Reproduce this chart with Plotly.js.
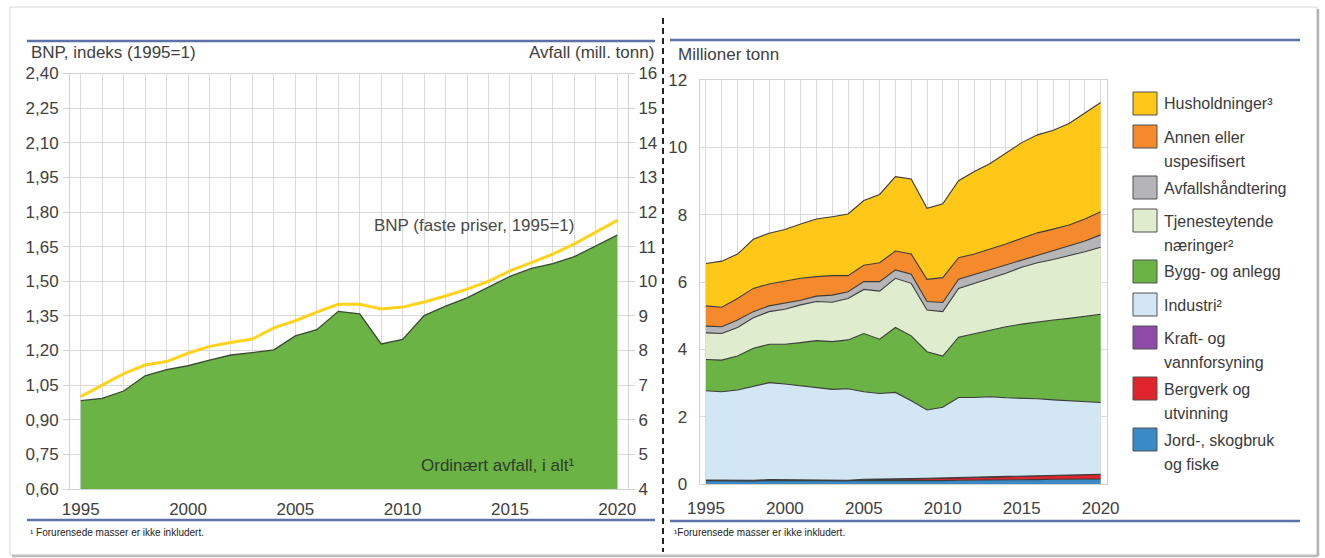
<!DOCTYPE html>
<html>
<head>
<meta charset="utf-8">
<script src="https://cdn.plot.ly/plotly-3.0.1.min.js"></script>
<style>
  html, body { margin: 0; padding: 0; background: #ffffff; }
  #chart { width: 1325px; height: 558px; }
</style>
</head>
<body>
<div id="chart"></div>
<script>
// ---- Data ----
const years = [1995, 1996, 1997, 1998, 1999, 2000, 2001, 2002, 2003, 2004, 2005, 2006, 2007,
               2008, 2009, 2010, 2011, 2012, 2013, 2014, 2015, 2016, 2017, 2018, 2019, 2020];
const xTickYears = [1995, 2000, 2005, 2010, 2015, 2020];

// GDP index, constant prices (1995 = 1)
const gdpIndex = [1.00, 1.05, 1.10, 1.137, 1.152, 1.188, 1.218, 1.235, 1.25, 1.298, 1.329, 1.366, 1.40,
                  1.40, 1.38, 1.388, 1.41, 1.436, 1.466, 1.50, 1.545, 1.581, 1.618, 1.662, 1.713, 1.764];

// Ordinary waste by source, million tonnes
const jordSkogFiske = [0.10, 0.09, 0.08, 0.09, 0.10, 0.10, 0.09, 0.09, 0.08, 0.08, 0.09, 0.09, 0.09,
                       0.10, 0.10, 0.10, 0.11, 0.11, 0.12, 0.12, 0.13, 0.13, 0.14, 0.14, 0.15, 0.15];
const bergverk = [0.01, 0.01, 0.01, 0.01, 0.02, 0.02, 0.02, 0.02, 0.02, 0.02, 0.04, 0.04, 0.05,
                  0.05, 0.06, 0.07, 0.07, 0.08, 0.08, 0.08, 0.09, 0.09, 0.10, 0.11, 0.12, 0.13];
const kraftVann = [0.01, 0.01, 0.01, 0.01, 0.01, 0.01, 0.01, 0.01, 0.01, 0.01, 0.01, 0.01, 0.01,
                   0.01, 0.01, 0.01, 0.01, 0.01, 0.01, 0.01, 0.01, 0.01, 0.01, 0.01, 0.01, 0.01];
const industri = [2.65, 2.63, 2.69, 2.78, 2.88, 2.84, 2.80, 2.75, 2.70, 2.72, 2.60, 2.55, 2.57,
                  2.31, 2.03, 2.10, 2.38, 2.37, 2.38, 2.35, 2.32, 2.30, 2.25, 2.21, 2.16, 2.13];
const byggAnlegg = [0.93, 0.94, 1.01, 1.14, 1.14, 1.18, 1.28, 1.39, 1.42, 1.45, 1.73, 1.61, 1.93,
                    1.93, 1.73, 1.52, 1.79, 1.90, 1.98, 2.11, 2.20, 2.29, 2.37, 2.45, 2.53, 2.62];
const tjenesteytende = [0.79, 0.79, 0.85, 0.91, 0.97, 1.04, 1.12, 1.16, 1.17, 1.23, 1.31, 1.43, 1.46,
                        1.56, 1.24, 1.32, 1.45, 1.49, 1.54, 1.59, 1.69, 1.75, 1.80, 1.86, 1.93, 1.99];
const avfallshandtering = [0.20, 0.20, 0.22, 0.18, 0.17, 0.18, 0.14, 0.16, 0.21, 0.20, 0.23, 0.28, 0.25,
                           0.27, 0.25, 0.27, 0.27, 0.26, 0.25, 0.24, 0.21, 0.23, 0.26, 0.28, 0.32, 0.37];
const annenUspesifisert = [0.60, 0.58, 0.64, 0.69, 0.65, 0.66, 0.65, 0.58, 0.58, 0.48, 0.49, 0.56, 0.56,
                           0.60, 0.66, 0.74, 0.64, 0.61, 0.61, 0.63, 0.65, 0.66, 0.64, 0.63, 0.65, 0.69];
const husholdninger = [1.26, 1.37, 1.32, 1.46, 1.51, 1.53, 1.61, 1.71, 1.75, 1.83, 1.92, 2.03, 2.21,
                       2.23, 2.11, 2.19, 2.29, 2.45, 2.55, 2.69, 2.84, 2.91, 2.94, 3.02, 3.14, 3.24];

// Stack order, bottom to top
const sourceSeries = [jordSkogFiske, bergverk, kraftVann, industri, byggAnlegg,
                      tjenesteytende, avfallshandtering, annenUspesifisert, husholdninger];
const sourceNames = ['Jord-, skogbruk|og fiske', 'Bergverk og|utvinning', 'Kraft- og|vannforsyning',
                     'Industri²', 'Bygg- og anlegg', 'Tjenesteytende|næringer²', 'Avfallshåndtering',
                     'Annen eller|uspesifisert', 'Husholdninger³'];

// Total ordinary waste = sum over all sources
const totalWaste = years.map((_, i) => sourceSeries.reduce((s, arr) => s + arr[i], 0));

// ---- Styling ----
const sourceColors = ['#3a8ac6', '#e0242b', '#8e4aa6', '#d2e6f4', '#6ab344',
                      '#dfedce', '#b5b5b7', '#f48a2c', '#ffc717'];
const FONT = 'Liberation Sans, Arial, Helvetica, sans-serif';
const TXT = '#404040';
const GRID = '#dadada';
const RULE = '#5d72a8';

const W = 1325, H = 558;
const fx = p => p / W;
const fy = p => 1 - p / H;

// ---- Traces ----
const traces = [];

traces.push({
  type: 'scatter', mode: 'lines', x: years, y: gdpIndex,
  xaxis: 'x', yaxis: 'y',
  line: { color: '#ffd31c', width: 3 },
  hoverinfo: 'x+y', showlegend: false
});

traces.push({
  type: 'scatter', mode: 'lines', x: years, y: totalWaste,
  xaxis: 'x', yaxis: 'y2',
  fill: 'tozeroy', fillcolor: '#6ab344',
  line: { color: '#3b4a33', width: 1.3 },
  hoverinfo: 'x+y', showlegend: false
});

sourceSeries.forEach((vals, k) => {
  traces.push({
    type: 'scatter', mode: 'lines', x: years, y: vals,
    xaxis: 'x2', yaxis: 'y3',
    stackgroup: 'kilder', fillcolor: sourceColors[k],
    line: { color: '#3c3c3c', width: 1.1 },
    name: sourceNames[k].replace('|', ' '),
    showlegend: false
  });
});

// ---- Shapes ----
const shapes = [];
const hline = (x0, x1, y, color, width) => shapes.push({
  type: 'line', xref: 'paper', yref: 'paper', x0: fx(x0), x1: fx(x1), y0: fy(y), y1: fy(y),
  line: { color, width }
});

// outer frame
shapes.push({ type: 'rect', xref: 'paper', yref: 'paper', x0: fx(10), x1: fx(1317), y0: fy(555), y1: fy(7),
  line: { color: '#d6d6d6', width: 1 }, layer: 'below' });
shapes.push({ type: 'line', xref: 'paper', yref: 'paper', x0: fx(1318), x1: fx(1318), y0: fy(9), y1: fy(556),
  line: { color: '#b4b4b4', width: 2.5 } });
shapes.push({ type: 'line', xref: 'paper', yref: 'paper', x0: fx(12), x1: fx(1318), y0: fy(556), y1: fy(556),
  line: { color: '#bcbcbc', width: 2.5 } });

// header / footer rules
hline(27, 655, 41, RULE, 2.5);
hline(27, 655, 520, RULE, 2.5);
hline(670, 1300, 40, RULE, 2.5);
hline(670, 1300, 521, RULE, 2.5);

// panel divider
shapes.push({ type: 'line', xref: 'paper', yref: 'paper', x0: fx(663), x1: fx(663), y0: fy(18), y1: fy(552),
  line: { color: '#222222', width: 2, dash: '6px,4px' } });

// ---- Annotations ----
const annotations = [];
const label = (text, x, y, anchor, size, color) => annotations.push({
  text, xref: 'paper', yref: 'paper', x: fx(x), y: fy(y), xanchor: anchor, yanchor: 'middle',
  showarrow: false, font: { family: FONT, size, color: color || TXT }
});

label('BNP, indeks (1995=1)', 29, 53, 'left', 17);
label('Avfall (mill. tonn)', 656, 53, 'right', 17);
label('Millioner tonn', 676, 54, 'left', 17);
label('BNP (faste priser, 1995=1)', 475, 225, 'center', 17, '#4a4a4a');
label('Ordinært avfall, i alt¹', 576, 465, 'right', 17, '#2f3b2b');
label('¹ Forurensede masser er ikke inkludert.', 28, 532, 'left', 10, '#222222');
label('¹Forurensede masser er ikke inkludert.', 672, 532, 'left', 10, '#222222');

// legend, top to bottom
let swatchTop = 92;
for (let k = sourceSeries.length - 1; k >= 0; k--) {
  const lines = sourceNames[k].split('|');
  shapes.push({ type: 'rect', xref: 'paper', yref: 'paper',
    x0: fx(1133), x1: fx(1157), y0: fy(swatchTop + 23), y1: fy(swatchTop),
    fillcolor: sourceColors[k], line: { color: '#505050', width: 1 } });
  lines.forEach((ln, j) => label(ln, 1162, swatchTop + 12 + j * 24, 'left', 16, '#3a3a3a'));
  swatchTop += 33 + (lines.length - 1) * 18;
}

// ---- Layout ----
const tickFont = { family: FONT, size: 17, color: TXT };
const layout = {
  width: W, height: H,
  margin: { l: 0, r: 0, t: 0, b: 0 },
  paper_bgcolor: '#ffffff', plot_bgcolor: '#ffffff',
  separators: ', ',
  showlegend: false,
  font: { family: FONT, color: TXT },
  xaxis: {
    domain: [fx(70), fx(628)], anchor: 'y', range: [1994.5, 2020.5],
    tickvals: xTickYears, ticks: '', tickfont: tickFont, ticklabelstandoff: 5,
    showgrid: true, gridcolor: GRID, gridwidth: 1,
    minor: { tick0: 1995, dtick: 1, showgrid: true, gridcolor: GRID, gridwidth: 1 },
    showline: true, linecolor: '#d2d2d2', mirror: true, zeroline: false
  },
  yaxis: {
    domain: [fy(489), fy(73.5)], anchor: 'x', range: [0.6, 2.4],
    tick0: 0.6, dtick: 0.15, tickformat: '.2f',
    ticks: 'outside', ticklen: 6, tickcolor: '#d2d2d2', tickfont: tickFont, ticklabelstandoff: 1,
    showgrid: true, gridcolor: GRID, gridwidth: 1,
    showline: true, linecolor: '#d2d2d2', mirror: true, zeroline: false
  },
  yaxis2: {
    overlaying: 'y', side: 'right', anchor: 'x', range: [4, 16],
    tick0: 4, dtick: 1,
    ticks: 'outside', ticklen: 6, tickcolor: '#d2d2d2', tickfont: tickFont, ticklabelstandoff: 0,
    showgrid: false, zeroline: false, showline: false
  },
  xaxis2: {
    domain: [fx(699.5), fx(1106.5)], anchor: 'y3', range: [1994.59, 2020.37],
    tickvals: xTickYears, ticks: '', tickfont: tickFont, ticklabelstandoff: 9,
    showgrid: true, gridcolor: GRID, gridwidth: 1,
    minor: { tick0: 1995, dtick: 1, showgrid: true, gridcolor: GRID, gridwidth: 1 },
    showline: true, linecolor: '#d2d2d2', mirror: true, zeroline: false
  },
  yaxis3: {
    domain: [fy(484), fy(80)], anchor: 'x2', range: [0, 12],
    tick0: 0, dtick: 2, ticks: '', tickfont: tickFont, ticklabelstandoff: 8,
    showgrid: true, gridcolor: GRID, gridwidth: 1,
    showline: true, linecolor: '#d2d2d2', mirror: true, zeroline: false
  },
  shapes, annotations
};

Plotly.newPlot('chart', traces, layout, { staticPlot: true, displayModeBar: false });
</script>
</body>
</html>
